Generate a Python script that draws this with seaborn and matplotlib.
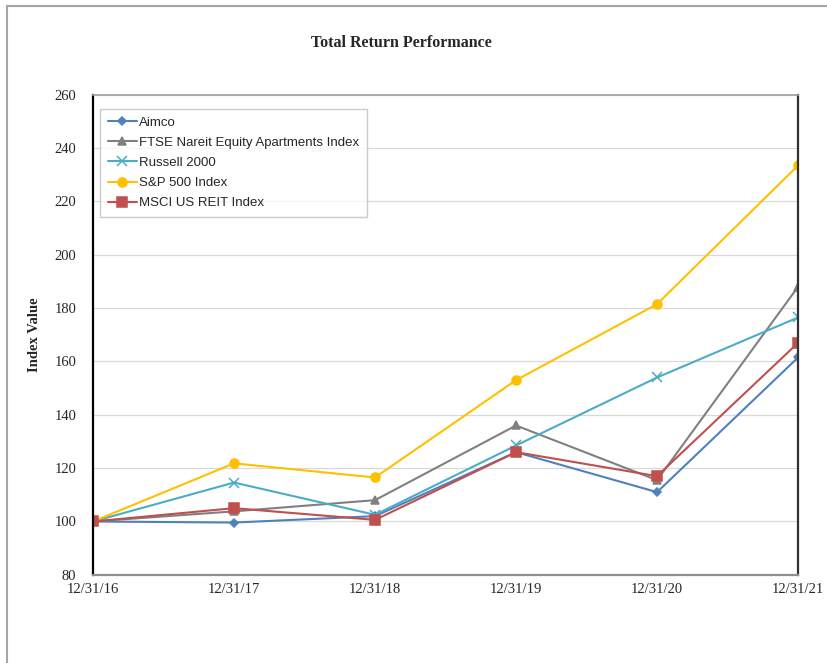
import pandas as pd
import matplotlib.pyplot as plt
from matplotlib.patches import Rectangle
import seaborn as sns

# data
dates = ['12/31/16', '12/31/17', '12/31/18', '12/31/19', '12/31/20', '12/31/21']
aimco = [100, 99.6, 102.0, 126.0, 111.0, 161.5]
ftse_apts = [100, 103.8, 108.0, 136.0, 115.5, 188.0]
russell = [100, 114.6, 102.5, 128.5, 154.0, 176.5]
sp500 = [100, 121.8, 116.5, 153.0, 181.5, 233.5]
msci_reit = [100, 105.0, 100.6, 126.0, 117.0, 167.0]

series_names = ['Aimco', 'FTSE Nareit Equity Apartments Index', 'Russell 2000',
                'S&P 500 Index', 'MSCI US REIT Index']
series_vals = [aimco, ftse_apts, russell, sp500, msci_reit]
colors = ['#4F81BD', '#808080', '#4BACC6', '#FFC000', '#C0504D']
markers = ['D', '^', 'x', 'o', 's']
msizes = [4, 5.5, 7, 6.5, 6.5]

df = pd.DataFrame({'x': list(range(len(dates))) * len(series_names),
                   'value': sum(series_vals, []),
                   'series': [n for n in series_names for _ in dates]})

sns.set_theme(style='white')
plt.rcParams['font.family'] = ['Liberation Serif', 'DejaVu Serif']

fig = plt.figure(figsize=(8.27, 6.63), dpi=100)
ax = fig.add_axes([0.1125, 0.133, 0.8525, 0.724])

for name, c, m, ms in zip(series_names, colors, markers, msizes):
    sns.lineplot(data=df[df['series'] == name], x='x', y='value', ax=ax,
                 color=c, marker=m, markersize=ms, linewidth=1.5,
                 markeredgecolor=c, markeredgewidth=1.1, label=name)

ax.set_xlim(0, 5)
ax.set_ylim(80, 260)
ax.set_yticks(range(80, 261, 20))
ax.set_xticks(range(len(dates)))
ax.set_xticklabels(dates)
ax.yaxis.grid(True, color='#D9D9D9', linewidth=0.9)
ax.tick_params(axis='both', length=4, color='#404040')
ax.tick_params(axis='x', direction='inout', length=8, pad=2)
ax.tick_params(axis='y', direction='out', length=4, pad=8)
for lab in ax.get_xticklabels() + ax.get_yticklabels():
    lab.set_fontsize(10.5)

ax.spines['left'].set_color('black')
ax.spines['left'].set_linewidth(1.6)
ax.spines['right'].set_color('#303030')
ax.spines['right'].set_linewidth(1.6)
ax.spines['top'].set_color('#A0A0A0')
ax.spines['top'].set_linewidth(1.2)
ax.spines['bottom'].set_color('#909090')
ax.spines['bottom'].set_linewidth(1.6)

ax.set_xlabel('')
ax.set_ylabel('Index Value', fontsize=10.5, fontweight='bold', labelpad=10)

fig.text(0.485, 0.935, 'Total Return Performance', ha='center', va='center',
         fontsize=11.5, fontweight='bold')

leg = ax.legend(loc='upper left', bbox_to_anchor=(0.0, 0.985),
                prop={'family': 'Liberation Sans', 'size': 9.5},
                frameon=True, fancybox=False, handlelength=2.2,
                handletextpad=0.2, borderpad=0.6, labelspacing=0.6)
leg.get_frame().set_edgecolor('#BFBFBF')
leg.get_frame().set_linewidth(1.0)

# outer chart border (top and left visible)
fig.patches.append(Rectangle((0.009, -0.05), 1.1, 0.991 + 0.05, transform=fig.transFigure,
                             fill=False, edgecolor='#A6A6A6', linewidth=1.5))

fig.savefig('out.png', dpi=100)
